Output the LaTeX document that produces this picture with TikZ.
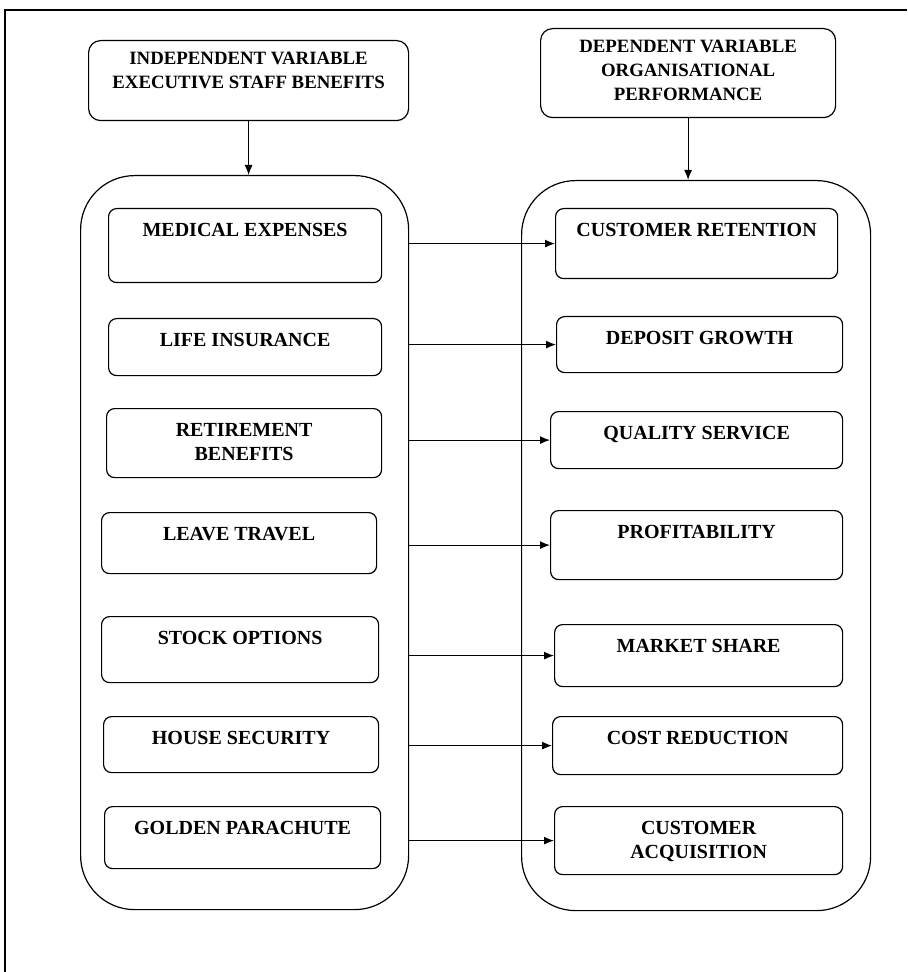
\documentclass[tikz,border=0pt]{standalone}
\usepackage{fontspec}
\usetikzlibrary{arrows.meta}
\setmainfont{Liberation Serif}

\begin{document}
\begin{tikzpicture}[
       x=0.5pt, y=-0.5pt,
       line width=0.6pt,
       >={Latex[length=5pt,width=4pt]},
       box/.style={
         draw,
         rounded corners=4pt,
         anchor=north west,
         align=center,
         inner ysep=3pt,
         text height=11pt,
         font=\fontsize{10}{12}\selectfont\bfseries
       },
       head/.style={
         box,
         rounded corners=6pt,
         text height=9pt,
         font=\fontsize{9.4}{12}\selectfont\bfseries
       },
       holder/.style={
         draw,
         rounded corners=27pt,
         anchor=north west,
         inner sep=0pt
       }
     ]

       \useasboundingbox (0,0) rectangle (907,972);
       \draw [line width=0.9pt] (5,972) -- (5,10) -- (907,10);

       \node (iv) at (88,40) [head, minimum width=160pt, text height=21pt, text depth=13pt]
         {INDEPENDENT VARIABLE\\EXECUTIVE STAFF BENEFITS};
       \node (dv) at (540,28) [head, minimum width=147.5pt, text height=33pt, text depth=5.5pt]
         {DEPENDENT VARIABLE\\ORGANISATIONAL\\PERFORMANCE};

       \node (bc) at (80,175) [holder, minimum width=164pt, minimum height=367pt]{};
       \node (pc) at (521,180) [holder, minimum width=174.5pt, minimum height=365pt]{};

       \node (b1) at (108,208) [box, minimum width=136.5pt, text depth=20pt]{MEDICAL EXPENSES};
       \node (b2) at (108,318) [box, minimum width=136.5pt, text depth=11.5pt]{LIFE INSURANCE};
       \node (b3) at (106,408) [box, minimum width=137.5pt, text height=23pt, text depth=5.5pt]{RETIREMENT\\BENEFITS};
       \node (b4) at (101,512) [box, minimum width=137.5pt, text depth=13.5pt]{LEAVE TRAVEL};
       \node (b5) at (101,616) [box, minimum width=138.5pt, text depth=16pt]{STOCK OPTIONS};
       \node (b6) at (103,716) [box, minimum width=137.5pt, text depth=11pt]{HOUSE SECURITY};
       \node (b7) at (104,806) [box, minimum width=138pt, text depth=14pt]{GOLDEN PARACHUTE};

       \node (p1) at (555,208) [box, minimum width=141pt, text depth=18pt]{CUSTOMER RETENTION};
       \node (p2) at (556,316) [box, minimum width=143pt, text depth=11pt]{DEPOSIT GROWTH};
       \node (p3) at (550,411) [box, minimum width=146pt, text depth=11.5pt]{QUALITY SERVICE};
       \node (p4) at (550,510) [box, minimum width=146pt, text depth=17.5pt]{PROFITABILITY};
       \node (p5) at (554,624) [box, minimum width=144pt, text depth=14pt]{MARKET SHARE};
       \node (p6) at (552,716) [box, minimum width=145pt, text depth=12pt]{COST REDUCTION};
       \node (p7) at (554,806) [box, minimum width=144pt, text height=23pt, text depth=5pt]{CUSTOMER\\ACQUISITION};

       \draw [->] (iv.south) -- (iv.south |- bc.north);
       \draw [->] (dv.south) -- (dv.south |- pc.north);

       \draw [->] (p1.west -| bc.east) -- (p1.west);
       \draw [->] (p2.west -| bc.east) -- (p2.west);
       \draw [->] (p3.west -| bc.east) -- (p3.west);
       \draw [->] (p4.west -| bc.east) -- (p4.west);
       \draw [->] (p5.west -| bc.east) -- (p5.west);
       \draw [->] (p6.west -| bc.east) -- (p6.west);
       \draw [->] (p7.west -| bc.east) -- (p7.west);

\end{tikzpicture}
\end{document}
